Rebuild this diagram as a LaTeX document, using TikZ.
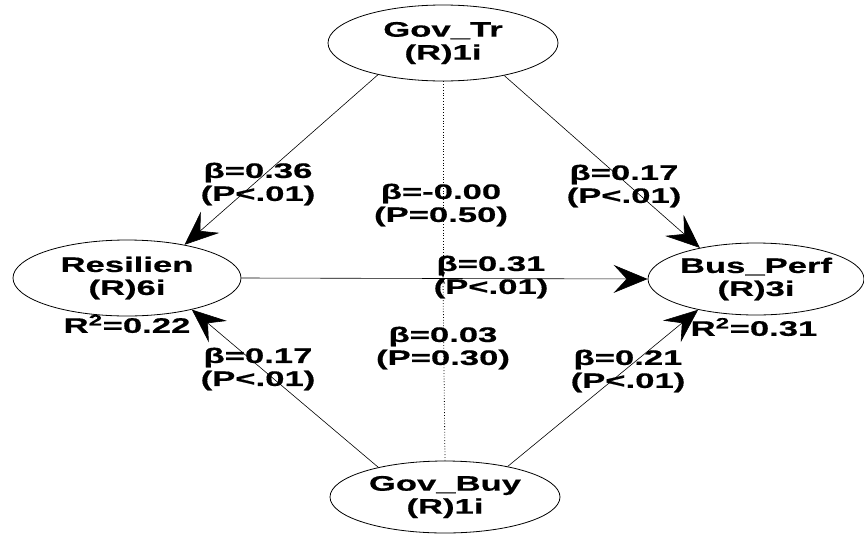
\documentclass[tikz,border=0pt]{standalone}
\usepackage{fontspec}
\newfontfamily\lblfont{Liberation Sans}[FakeStretch=1.65,FakeBold=0.6]
\usetikzlibrary{shapes.geometric,arrows.meta}
\begin{document}
\begin{tikzpicture}[x=1pt,y=-1pt,
  every node/.style={font=\lblfont\bfseries\fontsize{21}{23}\selectfont, align=center, inner sep=0pt},
  construct/.style={ellipse, draw, line width=0.8pt, inner sep=0pt},
  sempath/.style={draw, line width=0.6pt, -{Stealth[length=34pt,width=28pt,inset=13pt]}},
  modpath/.style={draw, line width=0.8pt, dotted, -{Stealth[length=6pt,width=4pt]}},
  coef/.style={}]
\useasboundingbox (0,0) rectangle (864,533);
% constructs
\node[construct, minimum width=230pt, minimum height=76pt] (gt) at (443,43) {Gov\_Tr\\(R)1i};
\node[construct, minimum width=228pt, minimum height=76pt] (res) at (127,278) {Resilien\\(R)6i};
\node[construct, minimum width=216pt, minimum height=72pt] (bp) at (756,279) {Bus\_Perf\\(R)3i};
\node[construct, minimum width=230pt, minimum height=72pt] (gb) at (445,497) {Gov\_Buy\\(R)1i};
% structural paths
\draw[sempath] (res.east) -- (bp.west);
\draw[sempath] (gt.206) -- (res.30);
\draw[sempath] (gt.332) -- (bp.151);
\draw[sempath] (gb.156) -- (res.334);
\draw[sempath] (gb.26) -- (bp.208);
% moderating paths onto Resilien -> Bus_Perf
\coordinate (m) at (443,278);
\draw[modpath] (gt.south) -- (m);
\draw[modpath] (gb.north) -- (m);
% coefficients
\node[coef] (c1) at (258,184) {β=0.36\\(P<.01)};
\node[coef] (c2) at (441,205) {β=-0.00\\(P=0.50)};
\node[coef] (c3) at (624,186) {β=0.17\\(P<.01)};
\node[coef] (c4) at (491,277) {β=0.31\\(P<.01)};
\node[coef] (c5) at (443,348) {β=0.03\\(P=0.30)};
\node[coef] (c6) at (258,369) {β=0.17\\(P<.01)};
\node[coef] (c7) at (628,371) {β=0.21\\(P<.01)};
\node (r1) at (127,324) {R\textsuperscript{2}=0.22};
\node (r2) at (754,327) {R\textsuperscript{2}=0.31};
\end{tikzpicture}
\end{document}
